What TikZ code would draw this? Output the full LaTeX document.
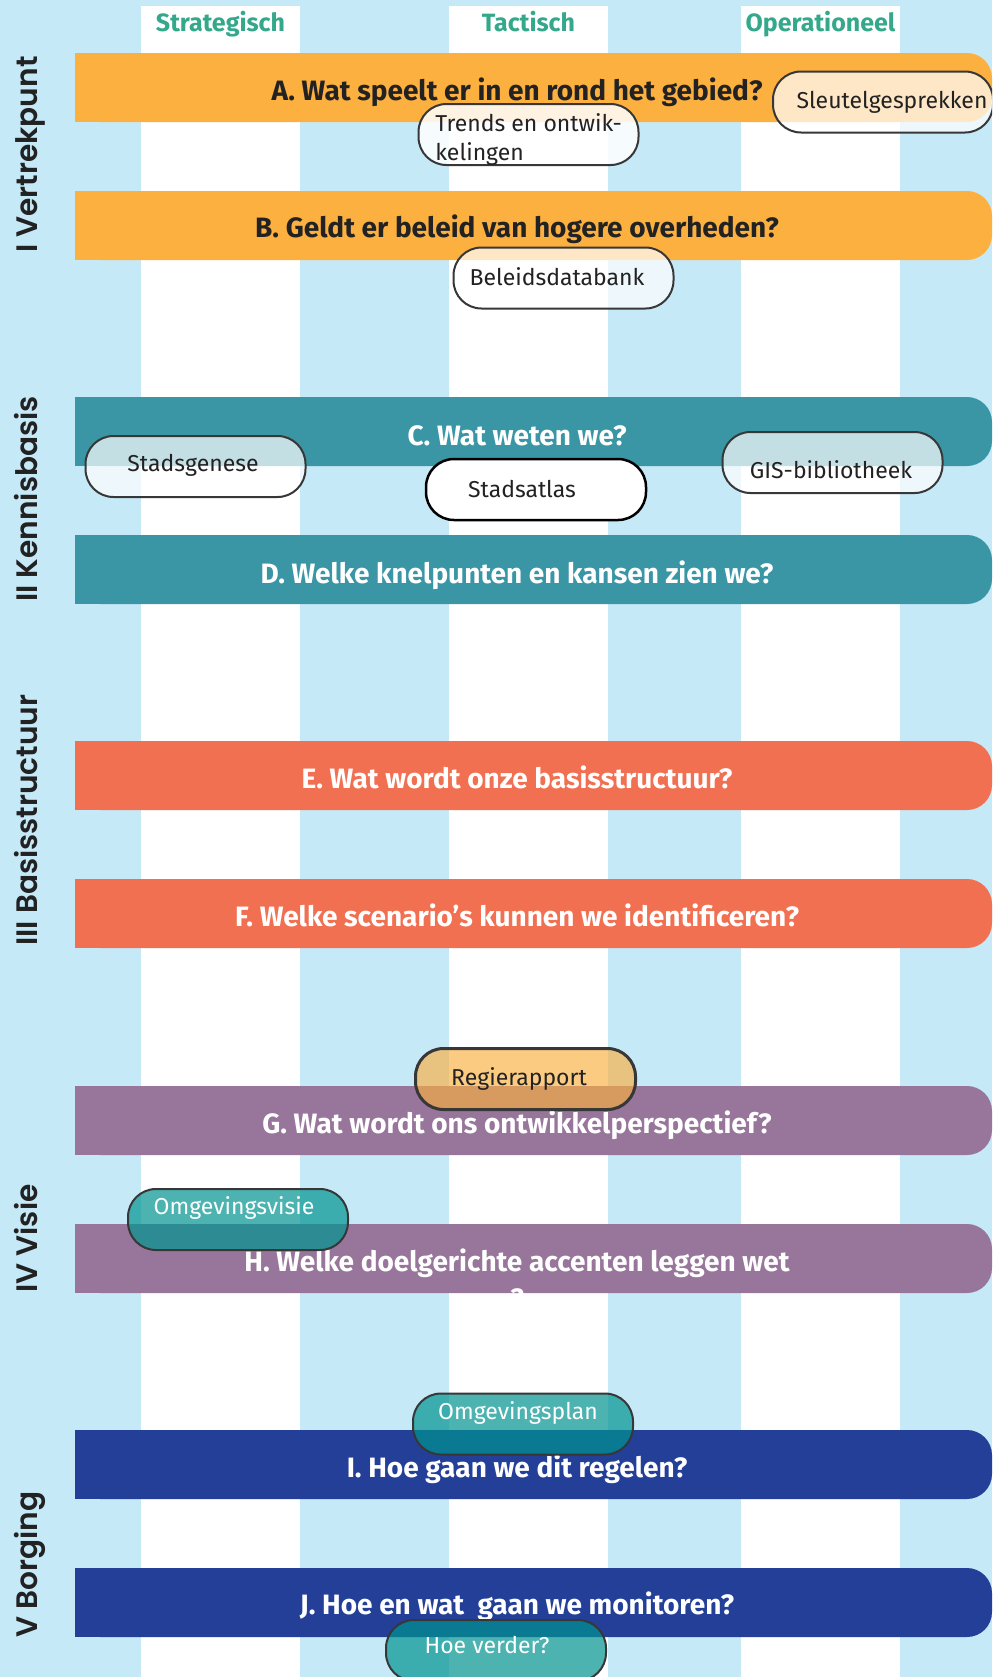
\documentclass[tikz,border=0pt]{standalone}
\usepackage{fontspec}
\setmainfont{Fira Sans}
\newfontfamily\sidefont{Poppins SemiBold}

\definecolor{bgblue}{RGB}{198,233,248}
\definecolor{headgreen}{RGB}{52,168,138}
\definecolor{orangebar}{RGB}{251,176,64}
\definecolor{tealbar}{RGB}{58,150,165}
\definecolor{coralbar}{RGB}{242,112,82}
\definecolor{purplebar}{RGB}{152,118,155}
\definecolor{bluebar}{RGB}{35,63,151}
\definecolor{pillteal}{RGB}{0,148,145}
\definecolor{textdark}{RGB}{34,34,34}
\definecolor{pillline}{RGB}{55,55,55}

\begin{document}
\begin{tikzpicture}[x=0.5pt, y=-0.5pt,
    header/.style={font=\bfseries\fontsize{12.5}{15}\selectfont, text=headgreen, anchor=base},
    qtext/.style={font=\bfseries\fontsize{14}{17}\selectfont, anchor=base, inner sep=0pt},
    side/.style={font=\sidefont\fontsize{14.8}{18}\selectfont, text=textdark, rotate=90, anchor=base west, inner sep=0pt},
    pill/.style={draw=pillline, line width=1pt, rounded corners=14pt, minimum width=110pt, minimum height=30.5pt},
    whitepill/.style={pill, fill=white, fill opacity=0.7},
    tealpill/.style={pill, fill=pillteal, fill opacity=0.7},
    ptext/.style={font=\fontsize{11.5}{14.5}\selectfont, text=textdark, inner sep=0pt}
  ]
    % Page and background
    \useasboundingbox (0,0) rectangle (992,1677);
    \clip (0,0) rectangle (992,1677);
    \fill[bgblue] (0,0) rectangle (992,1677);

    % Columns
    \fill[white] (141,6) rectangle (300,1677);
    \fill[white] (449,6) rectangle (608,1677);
    \fill[white] (741,6) rectangle (900,1677);

    % Column headers
    \node[header] (strat) at (220.5,31) {Strategisch};
    \node[header] (tact) at (528.5,31) {Tactisch};
    \node[header] (oper) at (820.5,31) {Operationeel};

    % I Vertrekpunt
    \fill[orangebar, rounded corners=12.5pt] (75,53) rectangle (992,122);
    \fill[orangebar] (75,53) rectangle (900,122);
    \node[qtext, text=textdark] (qa) at (517,100) {A. Wat speelt er in en rond het gebied?};
    \fill[orangebar, rounded corners=12.5pt] (75,191) rectangle (992,260);
    \fill[orangebar] (75,191) rectangle (900,260);
    \node[qtext, text=textdark] (qb) at (517,237) {B. Geldt er beleid van hogere overheden?};

    % II Kennisbasis
    \fill[tealbar, rounded corners=12.5pt] (75,397) rectangle (992,466);
    \fill[tealbar] (75,397) rectangle (900,466);
    \node[qtext, text=white] (qc) at (517,445) {C. Wat weten we?};
    \fill[tealbar, rounded corners=12.5pt] (75,535) rectangle (992,604);
    \fill[tealbar] (75,535) rectangle (900,604);
    \node[qtext, text=white] (qd) at (517,583) {D. Welke knelpunten en kansen zien we?};

    % III Basisstructuur
    \fill[coralbar, rounded corners=12.5pt] (75,741) rectangle (992,810);
    \fill[coralbar] (75,741) rectangle (900,810);
    \node[qtext, text=white] (qe) at (517,788) {E. Wat wordt onze basisstructuur?};
    \fill[coralbar, rounded corners=12.5pt] (75,879) rectangle (992,948);
    \fill[coralbar] (75,879) rectangle (900,948);
    \node[qtext, text=white] (qf) at (517,926) {F. Welke scenario’s kunnen we identificeren?};

    % IV Visie
    \fill[purplebar, rounded corners=12.5pt] (75,1086) rectangle (992,1155);
    \fill[purplebar] (75,1086) rectangle (900,1155);
    \node[qtext, text=white] (qg) at (517,1133) {G. Wat wordt ons ontwikkelperspectief?};
    \fill[purplebar, rounded corners=12.5pt] (75,1224) rectangle (992,1293);
    \fill[purplebar] (75,1224) rectangle (900,1293);
    \begin{scope}
        \clip (75,1224) rectangle (992,1293);
        \node[qtext, text=white] (qh) at (517,1271) {H. Welke doelgerichte accenten leggen wet};
        \node[qtext, text=white] (qhq) at (517,1308) {?};
    \end{scope}

    % V Borging
    \fill[bluebar, rounded corners=12.5pt] (75,1430) rectangle (992,1499);
    \fill[bluebar] (75,1430) rectangle (900,1499);
    \node[qtext, text=white] (qi) at (517,1477) {I. Hoe gaan we dit regelen?};
    \fill[bluebar, rounded corners=12.5pt] (75,1568) rectangle (992,1637);
    \fill[bluebar] (75,1568) rectangle (900,1637);
    \node[qtext, text=white] (qj) at (517,1614) {J. Hoe en wat~\ gaan we monitoren?};

    % Products
    \node[whitepill, fill opacity=0.85] (trends) at (528.5,134.5) {};
    \node[ptext, align=left, anchor=west] (trendstxt) at (435,139) {Trends en ontwik-\\kelingen};
    \node[whitepill] (sleutel) at (883,102) {};
    \node[ptext] (sleuteltxt) at (892,102) {Sleutelgesprekken};
    \node[whitepill] (beleid) at (563.5,278) {};
    \node[ptext] (beleidtxt) at (557,277) {Beleidsdatabank};
    \node[whitepill] (genese) at (195.5,466.5) {};
    \node[ptext] (genesetxt) at (193,465) {Stadsgenese};
    \node[pill, fill=white, draw=black, line width=1.25pt] (atlas) at (536,489.5) {};
    \node[ptext] (atlastxt) at (522,489) {Stadsatlas};
    \node[whitepill] (gis) at (832.5,462.5) {};
    \node[ptext] (gistxt) at (831,470) {GIS-bibliotheek};
    \node[pill, fill=orangebar, fill opacity=0.65, line width=1.5pt] (regie) at (525.5,1079) {};
    \node[ptext] (regietxt) at (519,1079) {Regierapport};
    \node[tealpill] (visie) at (238,1219.5) {};
    \node[ptext, text=white] (visietxt) at (234,1208) {Omgevingsvisie};
    \node[tealpill] (plan) at (523,1424) {};
    \node[ptext, text=white] (plantxt) at (518,1413) {Omgevingsplan};
    \node[tealpill] (verder) at (496,1650.5) {};
    \node[ptext, text=white] (verdertxt) at (487,1645) {Hoe verder?};

    % Phases
    \node[side] (ph1) at (37,253) {I Vertrekpunt};
    \node[side] (ph2) at (37,602) {II Kennisbasis};
    \node[side] (ph3) at (37,946) {III Basisstructuur};
    \node[side] (ph4) at (37,1293) {IV Visie};
    \node[side] (ph5) at (37,1638) {V Borging};
\end{tikzpicture}
\end{document}
